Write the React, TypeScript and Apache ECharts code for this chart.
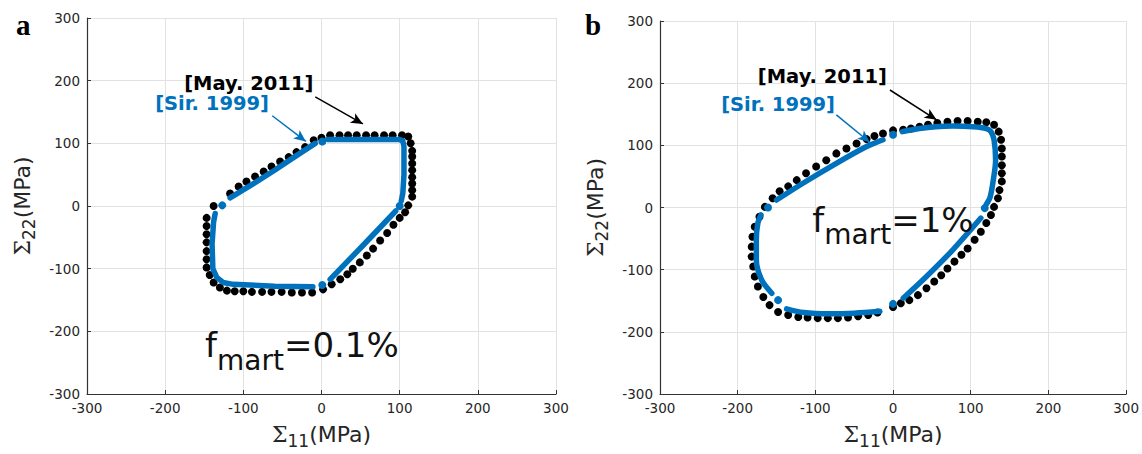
import React, { useEffect, useRef } from 'react';
import * as echarts from 'echarts';

// shared tick labels (MPa)
const ticks = [-300, -200, -100, 0, 100, 200, 300];

// ---- panel a : f_mart = 0.1% ----
const aMayX = [0, 11, 23, 34, 45, 57, 68, 80, 91, 103, 111, 114, 116, 116, 116, 116, 116, 116, 116, 116, 111, 107, 100, 92, 84, 75, 66, 58, 49, 40, 33, 24, 13, 2, -12, -25, -38, -51, -64, -76, -89, -100, -111, -121, -130, -138, -143, -147, -147, -147, -147, -147, -147, -147, -138, -117, -106, -96, -85, -74, -64, -53, -42, -32, -21, -10];
const aMayY = [109, 113, 113, 113, 113, 113, 113, 113, 113, 113, 111, 100, 88, 79, 68, 57, 46, 36, 25, 15, 1, -10, -19, -30, -43, -55, -68, -79, -90, -100, -109, -117, -125, -133, -138, -138, -138, -137, -137, -137, -137, -136, -136, -135, -130, -122, -110, -98, -85, -72, -58, -45, -32, -19, 0, 20, 31, 39, 47, 55, 63, 71, 78, 86, 94, 105];
const aSirSegX = [
  [8, 50, 100, 104, 105.5, 105.5, 104, 102],
  [95, 53, 11],
  [-11, -60, -113, -126, -134, -139, -140, -138, -136],
  [-117, -88, -60, -35, -8],
];
const aSirSegY = [
  [106, 106, 106, 104, 95, 50, 20, 8],
  [-8, -63, -117],
  [-129, -128, -125, -122, -114, -100, -60, -25, -12],
  [13, 35, 57, 78, 100],
];
const aSirDotX = [1, 100, 1, -127];
const aSirDotY = [103, 0, -126, 1];

// ---- panel b : f_mart = 1% ----
const bMayX = [0, 13, 23, 34, 45, 57, 70, 83, 96, 109, 120, 130, 136, 139, 140, 140, 140, 140, 140, 137, 135, 130, 126, 120, 113, 105, 96, 88, 79, 70, 62, 53, 43, 32, 21, 10, 0, -20, -32, -45, -58, -71, -84, -97, -110, -122, -135, -148, -159, -167, -174, -178, -180, -182, -182, -181, -178, -172, -165, -155, -146, -135, -124, -112, -99, -86, -73, -60, -47, -34, -24, -13];
const bMayY = [124, 125, 127, 130, 133, 136, 138, 139, 139, 138, 137, 133, 122, 109, 95, 82, 68, 55, 42, 28, 15, 1, -12, -25, -39, -52, -66, -76, -87, -98, -109, -119, -130, -141, -149, -154, -160, -169, -173, -175, -177, -178, -178, -178, -177, -176, -173, -168, -157, -144, -127, -111, -95, -79, -63, -47, -31, -15, 1, 15, 26, 34, 44, 55, 66, 76, 87, 95, 103, 110, 115, 119];
const bSirSegX = [
  [12, 34, 55, 77, 103, 120, 126, 130, 132, 129, 125, 120],
  [113, 77, 43, 13],
  [-17, -50, -82, -115, -137],
  [-156, -169, -176, -176, -174, -170],
  [-150, -116, -73, -34, -13],
];
const bSirSegY = [
  [122, 127, 130, 131, 130, 127, 122, 109, 76, 44, 17, 5],
  [-17, -68, -111, -146],
  [-167, -170, -171, -169, -163],
  [-138, -117, -84, -52, -25, -12],
  [12, 39, 71, 98, 109],
];
const bSirDotX = [118, 0, -148, -161, 0];
const bSirDotY = [-1, -155, -149, 0, 117];

// annotation anchors (data coordinates)
const labelMay = ['[May. 2011]'];
const labelSir = ['[Sir. 1999]'];
const aLabelPos = { may: [-93, 196], sir: [-140, 163], fmart: [-149, -222] };
const bLabelPos = { may: [-91, 210], sir: [-148, 165], fmart: [-104, -20] };
const aArrows = { may: [[-8, 174], [53, 131]], sir: [[-63, 144], [-20, 103]] };
const bArrows = { may: [[-4, 189], [56, 141]], sir: [[-73, 149], [-30, 105]] };
const fmartText = ['0.1%', '1%'];

const BLUE = '#0072BD';
const INK = '#262626';

const zip = (xs: number[], ys: number[]) => xs.map((x, i) => [x, ys[i]]);

function panelSeries(idx: number, mayX: number[], mayY: number[], segX: number[][], segY: number[][], dotX: number[], dotY: number[], pos: any, arrows: any, fm: string, smooth: number) {
  const s: any[] = [];
  s.push({
    type: 'scatter', xAxisIndex: idx, yAxisIndex: idx, data: zip(mayX, mayY),
    symbolSize: 8, itemStyle: { color: '#000', opacity: 1 }, z: 2, silent: true,
  });
  segX.forEach((sx, k) => {
    s.push({
      type: 'line', xAxisIndex: idx, yAxisIndex: idx, data: zip(sx, segY[k]),
      showSymbol: false, smooth, lineStyle: { color: BLUE, width: 5.5, cap: 'round', join: 'round', opacity: 1 }, z: 3, silent: true,
    });
  });
  s.push({
    type: 'scatter', xAxisIndex: idx, yAxisIndex: idx, data: zip(dotX, dotY),
    symbolSize: 8, itemStyle: { color: BLUE, opacity: 1 }, z: 4, silent: true,
  });
  const lab = (p: number[], text: string, color: string) => ({
    type: 'scatter', xAxisIndex: idx, yAxisIndex: idx, data: [p], symbolSize: 0, silent: true, z: 6,
    itemStyle: { color: 'transparent', opacity: 1 },
    label: { show: true, position: 'inside', formatter: text, color, opacity: 1, fontSize: 19.5, fontWeight: 'bold', fontFamily: 'DejaVu Sans' },
  });
  const mayS: any = lab(pos.may, labelMay[0], '#000');
  mayS.markLine = {
    silent: true, symbol: ['none', 'arrow'], symbolSize: [8, 12], label: { show: false },
    lineStyle: { color: '#000', width: 1.5, type: 'solid', opacity: 1 },
    data: [[{ coord: arrows.may[0] }, { coord: arrows.may[1] }]],
  };
  const sirS: any = lab(pos.sir, labelSir[0], BLUE);
  sirS.markLine = {
    silent: true, symbol: ['none', 'arrow'], symbolSize: [8, 12], label: { show: false },
    lineStyle: { color: BLUE, width: 1.5, type: 'solid', opacity: 1 },
    data: [[{ coord: arrows.sir[0] }, { coord: arrows.sir[1] }]],
  };
  s.push(mayS, sirS);
  s.push({
    type: 'scatter', xAxisIndex: idx, yAxisIndex: idx, data: [pos.fmart], symbolSize: 0, silent: true, z: 6,
    itemStyle: { color: 'transparent', opacity: 1 },
    label: {
      show: true, position: [0, 0], align: 'left', verticalAlign: 'middle', opacity: 1,
      formatter: '{f|f}{m|mart}{e|=' + fm + '}',
      rich: {
        f: { fontSize: 34, fontFamily: 'DejaVu Sans', color: '#111' },
        m: { fontSize: 28, fontFamily: 'DejaVu Sans', color: '#111', padding: [30, 0, 0, 0] },
        e: { fontSize: 34, fontFamily: 'DejaVu Sans', color: '#111' },
      },
    },
  });
  return s;
}

const nameRich = {
  s: { fontFamily: 'DejaVu Serif', fontSize: 22, color: INK },
  b: { fontFamily: 'DejaVu Sans', fontSize: 17, color: INK, padding: [13, 0, 0, 0] },
  n: { fontFamily: 'DejaVu Sans', fontSize: 22, color: INK },
};

const axisBase = {
  type: 'value',
  min: ticks[0],
  max: ticks[ticks.length - 1],
  interval: ticks[1] - ticks[0],
  axisLine: { show: true, onZero: false, lineStyle: { color: '#333', width: 1.2 } },
  axisTick: { show: true, inside: true, length: 4, lineStyle: { color: '#333' } },
  splitLine: { show: true, lineStyle: { color: '#e2e2e2', width: 1 } },
  axisLabel: { fontSize: 13.5, color: INK, fontFamily: 'DejaVu Sans', margin: 7 },
  nameLocation: 'middle',
  nameTextStyle: { rich: nameRich },
};

export default function App() {
  const ref = useRef<HTMLDivElement>(null);
  useEffect(() => {
    if (!ref.current) return;
    const chart = echarts.init(ref.current, undefined, { renderer: 'svg' });
    chart.setOption({
      animation: false,
      backgroundColor: '#fff',
      grid: [
        { left: 87, top: 18, width: 469, height: 380 },
        { left: 660, top: 21, width: 467, height: 373 },
      ],
      xAxis: [0, 1].map((i) => ({ ...axisBase, gridIndex: i, name: '{s|Σ}{b|11}{n|(MPa)}', nameGap: 25 })),
      yAxis: [0, 1].map((i) => ({ ...axisBase, gridIndex: i, name: '{s|Σ}{b|22}{n|(MPa)}', nameGap: 50 })),
      graphic: [
        { type: 'text', left: 16, top: 10, style: { text: 'a', font: 'bold 29px "Liberation Serif"', fill: '#000' } },
        { type: 'text', left: 585, top: 10, style: { text: 'b', font: 'bold 29px "Liberation Serif"', fill: '#000' } },
      ],
      series: [
        ...panelSeries(0, aMayX, aMayY, aSirSegX, aSirSegY, aSirDotX, aSirDotY, aLabelPos, aArrows, fmartText[0], 0),
        ...panelSeries(1, bMayX, bMayY, bSirSegX, bSirSegY, bSirDotX, bSirDotY, bLabelPos, bArrows, fmartText[1], 0.3),
      ],
    });
    return () => chart.dispose();
  }, []);
  return <div ref={ref} style={{ position: 'fixed', left: 0, top: 0, width: 1142, height: 454 }} />;
}
